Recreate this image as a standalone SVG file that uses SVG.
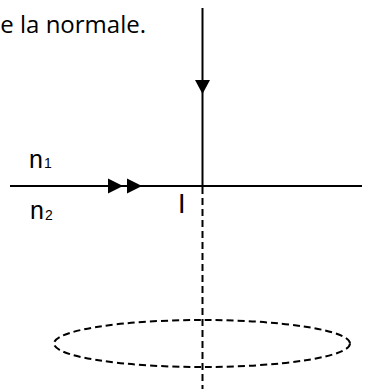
<svg xmlns="http://www.w3.org/2000/svg" xmlns:xlink="http://www.w3.org/1999/xlink" width="366" height="389" viewBox="0 0 366 389">
  <style>
    .solid { stroke: #000; stroke-width: 2; fill: none; }
    .dash { stroke: #000; stroke-width: 2; fill: none; stroke-dasharray: 7 4; }
    .lbl { font-family: "Liberation Sans", Arial, sans-serif; fill: #000; }
    .txt { font-family: "Open Sans", "Liberation Sans", sans-serif; fill: #000; }
  </style>
  <defs>
    <polygon id="arrR" points="0,-7.5 0,7.5 15,0" fill="#000"/>
    <polygon id="arrD" points="-7.5,0 7.5,0 0,14" fill="#000"/>
  </defs>
  <rect width="366" height="389" fill="#fff"/>
  <text class="txt" x="146" y="33" font-size="24" text-anchor="end">e la normale.</text>

  <g id="connectors">
    <line id="interface" class="solid" x1="10" y1="186" x2="362" y2="186" stroke-width="1.7"/>
    <line id="ray-horizontal" class="solid" x1="36" y1="186" x2="202" y2="186" stroke-width="2.4"/>
    <use xlink:href="#arrR" x="108" y="186"/>
    <use xlink:href="#arrR" x="127" y="186"/>
    <line id="ray-vertical" class="solid" x1="202.5" y1="8" x2="202.5" y2="186"/>
    <use xlink:href="#arrD" x="202.5" y="80"/>
    <line id="normal-dashed" class="dash" x1="202.5" y1="187" x2="202.5" y2="389"/>
  </g>

  <g id="ellipse">
    <ellipse class="dash" cx="202" cy="343.5" rx="148" ry="23.5" stroke-dasharray="8 4"/>
  </g>

  <g id="label-n1">
    <text class="lbl" x="29" y="168" font-size="25">n<tspan font-size="14" dx="1">1</tspan></text>
  </g>
  <g id="label-n2">
    <text class="lbl" x="30" y="219" font-size="25">n<tspan font-size="14" dx="1" dy="1">2</tspan></text>
  </g>
  <g id="label-I">
    <text class="lbl" x="178" y="213" font-size="27">I</text>
  </g>
</svg>
